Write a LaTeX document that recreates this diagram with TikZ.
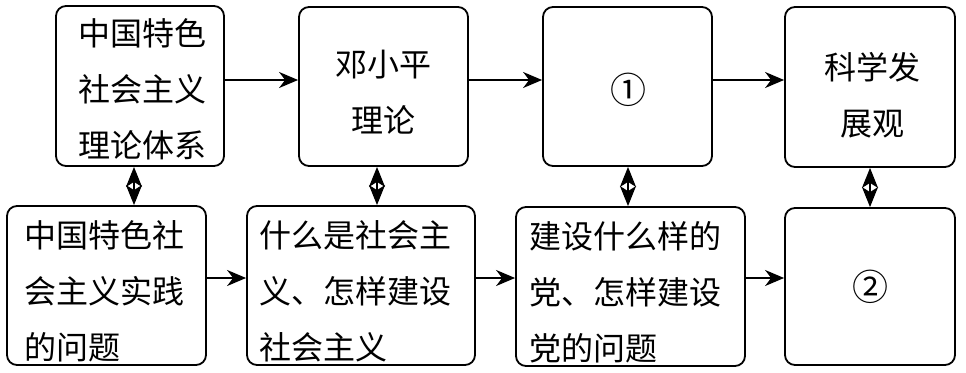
\documentclass[tikz,border=0pt]{standalone}
\usepackage{fontspec}
\newfontfamily\cjk{Noto Sans CJK SC}
\usetikzlibrary{arrows.meta}
\begin{document}
\begin{tikzpicture}[x=1pt,y=-1pt,
  box/.style={draw, line width=1.8pt, rounded corners=10pt, inner sep=0pt},
  txt/.style={font=\cjk\fontsize{32}{56}\selectfont, inner sep=0pt},
  arr/.style={line width=1.8pt, -{Stealth[length=19pt,width=16pt,inset=6pt]}},
  dbl/.style={line width=1.8pt, {Stealth[length=20pt,width=16pt,inset=5pt]}-{Stealth[length=20pt,width=16pt,inset=5pt]}}]
\useasboundingbox (0,0) rectangle (966,372);
% top row
\node[box, minimum width=168pt, minimum height=160pt] (A) at (140,86) {};
\node[box, minimum width=169pt, minimum height=159pt] (B) at (383.5,86.5) {};
\node[box, minimum width=169pt, minimum height=159pt] (C) at (627.5,86.5) {};
\node[box, minimum width=170pt, minimum height=160pt] (D) at (870,87) {};
% bottom row
\node[box, minimum width=199pt, minimum height=159pt] (E) at (106.5,285.5) {};
\node[box, minimum width=228pt, minimum height=159pt] (F) at (361,285.5) {};
\node[box, minimum width=229pt, minimum height=159pt] (G) at (630.5,286.5) {};
\node[box, minimum width=170pt, minimum height=157pt] (H) at (870,286.5) {};
% texts
\node[txt, align=center] (At) at (142,89) {中国特色\\社会主义\\理论体系};
\node[txt, align=center] (Bt) at (383,92) {邓小平\\理论};
\node[txt, font=\cjk\fontsize{36}{40}\selectfont] (Ct) at (628,90) {①};
\node[txt, align=center] (Dt) at (872,95) {科学发\\展观};
\node[txt, align=left, anchor=west] (Et) at (24,291) {中国特色社\\会主义实践\\的问题};
\node[txt, align=left, anchor=west] (Ft) at (259,291) {什么是社会主\\义、怎样建设\\社会主义};
\node[txt, align=left, anchor=west] (Gt) at (529,292) {建设什么样的\\党、怎样建设\\党的问题};
\node[txt, font=\cjk\fontsize{36}{40}\selectfont] (Ht) at (870,287) {②};
% horizontal arrows
\draw[arr] (A.east |- 0,80) -- (B.west |- 0,80);
\draw[arr] (B.east |- 0,80) -- (C.west |- 0,80);
\draw[arr] (C.east |- 0,80) -- (D.west |- 0,80);
\draw[arr] (E.east |- 0,278) -- (F.west |- 0,278);
\draw[arr] (F.east |- 0,278) -- (G.west |- 0,278);
\draw[arr] (G.east |- 0,278) -- (H.west |- 0,278);
% vertical double arrows
\draw[dbl] (A.south -| 134,0) -- (E.north -| 134,0);
\draw[dbl] (B.south -| 377,0) -- (F.north -| 377,0);
\draw[dbl] (C.south -| 628,0) -- (G.north -| 628,0);
\draw[dbl] (D.south -| 870,0) -- (H.north -| 870,0);
\end{tikzpicture}
\end{document}
